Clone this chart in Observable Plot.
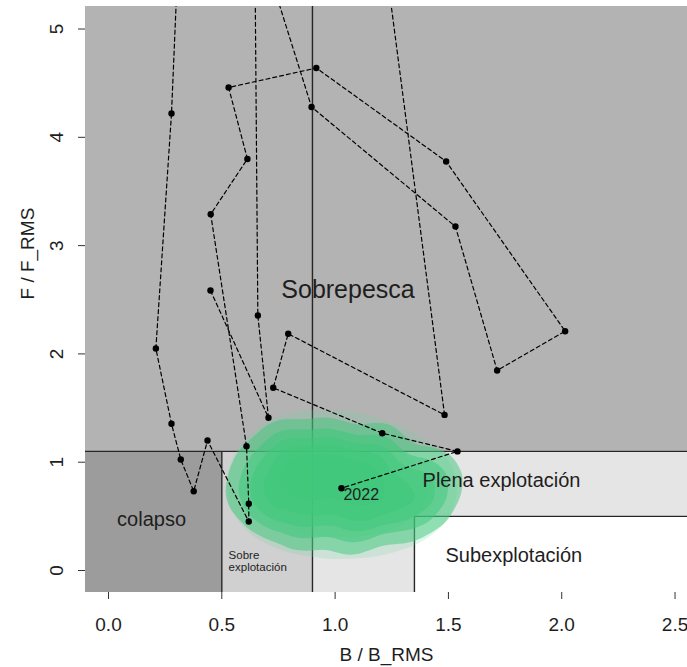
<!DOCTYPE html>
<html><head><meta charset="utf-8">
<script src="https://cdn.jsdelivr.net/npm/d3@7"></script>
<script src="https://cdn.jsdelivr.net/npm/@observablehq/plot@0.6"></script>
<style>body{margin:0;background:#fff}</style>
</head><body><div id="chart"></div>
<script>
// ---- data ----
const years = [1993,1994,1995,1996,1997,1998,1999,2000,2001,2002,2003,2004,2005,2006,2007,2008,2009,2010,2011,2012,2013,2014,2015,2016,2017,2018,2019,2020,2021,2022];
const bRatio = [0.45,0.706,0.659,0.645,0.896,1.531,1.715,2.015,1.49,0.917,0.53,0.613,0.451,0.609,0.619,0.619,0.437,0.376,0.319,0.278,0.209,0.278,0.32,1.18,1.483,0.793,0.727,1.208,1.54,1.028];
const fRatio = [2.585,1.41,2.355,5.95,4.28,3.176,1.847,2.21,3.777,4.64,4.46,3.80,3.29,1.148,0.616,0.452,1.20,0.732,1.025,1.355,2.05,4.22,6.3,6.3,1.437,2.186,1.687,1.268,1.10,0.76];

// uncertainty cloud for the last year (hand-read sample locations and weights)
const cloudB = [0.8,0.95,1.1,1.25,0.9,1.05,1.2,1.0,0.85,1.15, 0.7,0.7,0.8,1.0,1.2,1.35,1.4,1.35,1.1,0.9,0.75, 0.6,0.62,0.68,0.75,0.95,1.2,1.47,1.52,1.45,1.3,1.05,0.85,0.58];
const cloudF = [0.8,0.85,0.8,0.75,0.65,0.6,0.55,1.0,1.0,0.95, 0.7,0.95,1.15,1.15,1.1,0.95,0.75,0.55,0.4,0.45,0.5, 0.8,1.05,0.5,1.25,1.3,1.25,1.0,0.8,0.55,0.35,0.25,0.3,0.65];
const cloudW = [3,3,3,3,3,3,3,3,3,3, 2,2,2,2,2,2,2,2,2,2,2, 1,1,1,1,1,1,1,1,1,1,1,1,1];

// status zones (reference points)
const zoneName = ["Sobrepesca","colapso","Sobreexplotación","Plena explotación","Plena explotación","Subexplotación"];
const zoneB1 = [-1, -1, 0.5, 0.9, 0.9, 1.35];
const zoneB2 = [10, 0.5, 0.9, 10, 1.35, 10];
const zoneF1 = [1.1, -1, -1, 0.5, -1, -1];
const zoneF2 = [10, 1.1, 1.1, 1.1, 0.5, 0.5];

// boundary lines
const lineB1 = [0.9, -1, 0.5, 1.35, 1.35];
const lineB2 = [0.9, 10, 0.5, 1.35, 10];
const lineF1 = [-1, 1.1, -1, -1, 0.5];
const lineF2 = [10, 1.1, 1.1, 0.5, 0.5];

const xTicks = [0, 0.5, 1, 1.5, 2, 2.5];
const xTickLabels = ["0.0","0.5","1.0","1.5","2.0","2.5"];
const yTicks = [0, 1, 2, 3, 4, 5];
const yTickLabels = ["0","1","2","3","4","5"];

// ---- styles / annotation placement ----
const zoneFill = {"Sobrepesca":"#b3b3b3","colapso":"#9c9c9c","Sobreexplotación":"#d0d0d0","Plena explotación":"#e5e5e5","Subexplotación":"#ffffff"};
const labels = [
  {text:"Sobrepesca", b:1.057, f:2.512, size:25, anchor:"middle"},
  {text:"colapso", b:0.038, f:0.415, size:20, anchor:"start"},
  {text:"Plena explotación", b:1.386, f:0.769, size:20, anchor:"start"},
  {text:"Subexplotación", b:1.487, f:0.077, size:20, anchor:"start"},
  {text:"Sobre\nexplotación", b:0.53, f:0.0, size:11.5, anchor:"start", lh:1.0}
];

const traj = years.map((y,i)=>({year:y, b:bRatio[i], f:fRatio[i]}));
const cloud = cloudB.map((b,i)=>({b, f:cloudF[i], w:cloudW[i]}));
const zones = zoneName.map((n,i)=>({n, b1:zoneB1[i], b2:zoneB2[i], f1:zoneF1[i], f2:zoneF2[i]}));
const bounds = lineB1.map((b,i)=>({b1:b, b2:lineB2[i], f1:lineF1[i], f2:lineF2[i]}));
const last = traj[traj.length-1];
const ink = "#1e1e1e";

const chart = Plot.plot({
  width: 687, height: 667,
  marginLeft: 85, marginRight: 0, marginTop: 6, marginBottom: 75,
  style: {fontFamily: "'Liberation Sans', Arial, sans-serif", fontSize: "19px", color: ink, background: "#fff"},
  x: {domain: [-0.1015, 2.555]},
  y: {domain: [-0.203, 5.208]},
  marks: [
    Plot.rect(zones, {x1:"b1", x2:"b2", y1:"f1", y2:"f2", fill: d=>zoneFill[d.n], clip:true}),
    Plot.link(bounds, {x1:"b1", x2:"b2", y1:"f1", y2:"f2", stroke:"#262626", strokeWidth:1.4, clip:true}),
    Plot.density(cloud, {x:"b", y:"f", weight:"w", bandwidth:30, thresholds:4, fill:"#6fd9a0", fillOpacity:0.2, stroke:"none", clip:true}),
    Plot.density(cloud, {x:"b", y:"f", weight:"w", bandwidth:15, thresholds:6, fill:"#3dc87a", fillOpacity:0.5, stroke:"none", clip:true}),
    Plot.line(traj, {x:"b", y:"f", stroke:"#000", strokeWidth:1.2, strokeDasharray:"4,3", clip:true}),
    Plot.dot(traj, {x:"b", y:"f", r:3.2, fill:"#000", stroke:"none", clip:true}),
    Plot.text([last], {x:"b", y:"f", text:d=>String(d.year), dx:2, dy:12, textAnchor:"start", lineAnchor:"bottom", fontSize:16, fill:ink}),
    ...labels.map(l => Plot.text([l], {x:"b", y:"f", text:"text", textAnchor:l.anchor, lineAnchor:"bottom", fontSize:l.size, lineHeight:l.lh ?? 1, fill:ink})),
    Plot.axisX({ticks: xTicks, tickSize: 7, tickPadding: 18, tickFormat: d => xTickLabels[xTicks.indexOf(d)], stroke:"#333", fill: ink, label:null}),
    Plot.axisY({ticks: yTicks, tickSize: 7, tickFormat: () => "", stroke:"#333", label:null}),
    Plot.text(yTicks, {frameAnchor:"left", y: d=>d, text: d => yTickLabels[yTicks.indexOf(d)], dx:-23, rotate:-90, textAnchor:"middle", lineAnchor:"bottom", fontSize:19, fill:ink}),
    Plot.text(["B / B_RMS"], {frameAnchor:"bottom", dy:68, lineAnchor:"bottom", fontSize:19, fill:ink}),
    Plot.text(["F / F_RMS"], {frameAnchor:"left", dx:-52, rotate:-90, lineAnchor:"bottom", fontSize:19, fill:ink})
  ]
});
document.getElementById("chart").appendChild(chart);
</script>
</body></html>
